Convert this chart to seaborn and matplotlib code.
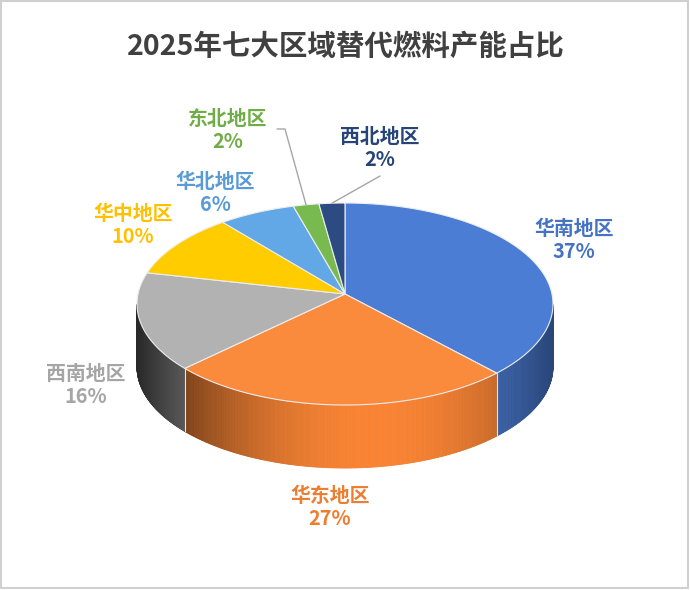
import numpy as np
import matplotlib
matplotlib.use("Agg")
import matplotlib.pyplot as plt
from matplotlib.collections import PolyCollection
from matplotlib.patches import Polygon, Rectangle
from matplotlib.colors import to_rgb
import seaborn as sns

# données
title = "2025年七大区域替代燃料产能占比"
regions = ["华南地区", "华东地区", "西南地区", "华中地区", "华北地区", "东北地区", "西北地区"]
shares = [37, 27, 16, 10, 6, 2, 2]

top_colors = ["#4A7DD3", "#FA8A3C", "#B2B2B2", "#FFCC00", "#62A7E6", "#78B950", "#2C4B82"]
side_colors = ["#4472C4", "#ED7D31", "#A5A5A5", "#FFC000", "#5B9BD5", "#70AD47", "#264478"]

# mise en page (pixels)
label_pos = [(574, 240), (330, 507), (86, 385), (133, 225), (215, 193), (228, 130), (380, 148)]
leaders = {5: [(277, 129), (285, 129)], 6: [(380, 176)]}
cx, cy, rx, ry = 345, 304, 208, 101
apex = (345, 294)
depth = 63

sns.set_theme(style="white")
plt.rcParams['font.family'] = ['Noto Sans CJK SC', 'DejaVu Sans']

fig = plt.figure(figsize=(6.9, 5.9), dpi=100)
ax = fig.add_axes([0, 0, 1, 1])
ax.set_xlim(0, 690)
ax.set_ylim(590, 0)
ax.axis('off')

frac = np.array(shares) / sum(shares)
bounds = np.concatenate([[0], np.cumsum(frac)])
ang = 90 - 360 * bounds


def pt(t):
    r = np.radians(t)
    return cx + rx * np.cos(r), cy - ry * np.sin(r)


def shade(x):
    u = (x - cx) / rx
    return np.clip(1.05 - 0.8 * ((u - 0.15) / 1.15) ** 2, 0.15, 1.1)


# faces latérales
strips, cols = [], []
for i in range(len(shares)):
    ts = np.linspace(ang[i], ang[i + 1], 200)
    base = np.array(to_rgb(side_colors[i]))
    for a, b in zip(ts[:-1], ts[1:]):
        if np.sin(np.radians(a)) <= 1e-9 and np.sin(np.radians(b)) <= 1e-9:
            x1, y1 = pt(a)
            x2, y2 = pt(b)
            strips.append([(x1, y1), (x2, y2), (x2, y2 + depth), (x1, y1 + depth)])
            cols.append(np.clip(base * shade((x1 + x2) / 2), 0, 1))
ax.add_collection(PolyCollection(strips, facecolors=cols, edgecolors=cols, linewidths=0.6, zorder=1))

for t in ang:
    if np.sin(np.radians(t)) < 0:
        x, y = pt(t)
        ax.plot([x, x], [y, y + depth], color='#E6E6E6', lw=0.8, zorder=2)

# faces supérieures
for i in range(len(shares)):
    ts = np.linspace(ang[i], ang[i + 1], 120)
    xs, ys = pt(ts)
    verts = [apex] + list(zip(xs, ys))
    ax.add_patch(Polygon(verts, closed=True, facecolor=top_colors[i],
                         edgecolor='#EDEDED', lw=0.8, zorder=3))

# étiquettes
for i, (name, s) in enumerate(zip(regions, shares)):
    x, y = label_pos[i]
    ax.text(x, y, f"{name}\n{s}%", ha='center', va='center', fontsize=14.3,
            fontweight='bold', color=side_colors[i], linespacing=1.1, zorder=5)
    if i in leaders:
        mid = (ang[i] + ang[i + 1]) / 2
        ex, ey = pt(mid)
        p = leaders[i] + [(ex, ey)]
        ax.plot([q[0] for q in p], [q[1] for q in p], color='#A6A6A6', lw=1, zorder=4)

ax.text(346, 47, title, ha='center', va='center', fontsize=20.5,
        fontweight='bold', color='#404040')

ax.add_patch(Rectangle((1, 1), 687, 587, fill=False, edgecolor='#D0D0D0', lw=1.5))

fig.savefig('out.png', dpi=100)
